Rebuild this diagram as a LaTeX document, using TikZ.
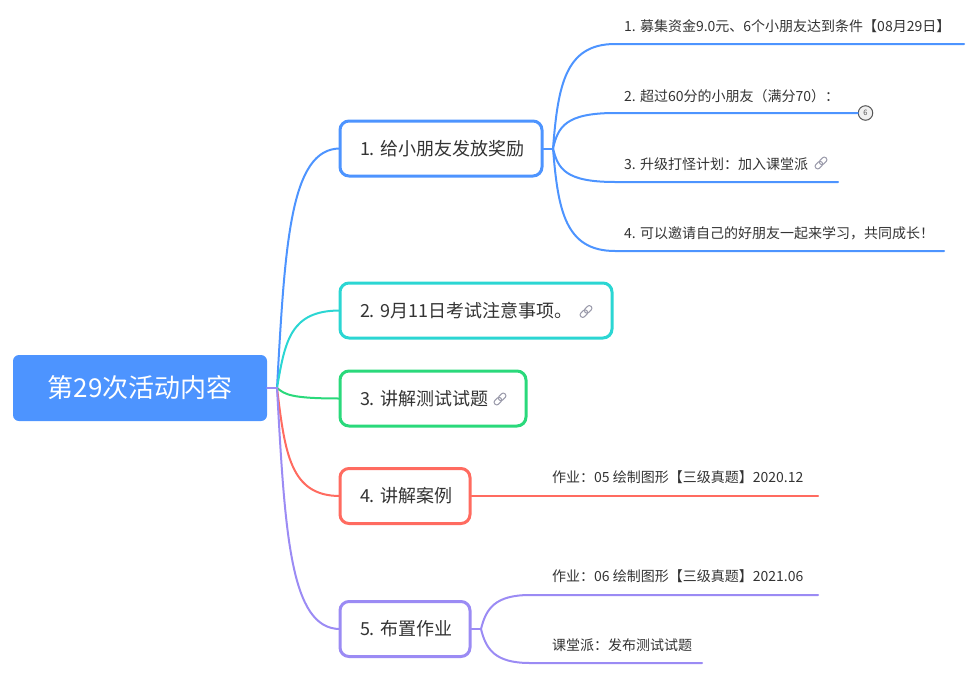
\documentclass[tikz,border=0pt]{standalone}
\usepackage{fontspec}
\setmainfont{Noto Sans CJK SC}
\usetikzlibrary{calc}
\definecolor{cblue}{HTML}{4D94FF}
\definecolor{ccyan}{HTML}{2BD6D3}
\definecolor{cgreen}{HTML}{2AD97B}
\definecolor{cred}{HTML}{FF6B60}
\definecolor{cpurple}{HTML}{9B8BF4}
\definecolor{ctext}{HTML}{333333}
\definecolor{cicon}{HTML}{9A9AAA}
\definecolor{cbadge}{HTML}{555555}
\tikzset{
  rootbox/.style={fill=cblue, rounded corners=6pt, text=white,
    font=\fontsize{26}{30}\selectfont, minimum width=254pt, minimum height=66pt, inner sep=0pt},
  mainbox/.style={draw=#1, fill=white, line width=3pt, rounded corners=9pt, text=ctext,
    font=\fontsize{18}{22}\selectfont, minimum height=55pt, inner xsep=0pt, inner ysep=0pt},
  conn/.style={line width=2pt, line cap=round},
  leaf/.style={text=ctext, font=\fontsize{14}{17}\selectfont, inner sep=0pt, anchor=west},
  badge/.style={draw=cbadge, fill=black!6, circle, line width=1pt, minimum size=14.5pt,
    inner sep=0pt, text=cbadge, font=\fontsize{7.5}{8}\selectfont},
  linkicon/.pic={
    \draw[cicon, line width=1pt, rotate=45, rounded corners=2.4pt] (-7.2,-2.6) rectangle (1.2,2.6);
    \draw[cicon, line width=1pt, rotate=45, rounded corners=2.4pt] (-1.2,-2.6) rectangle (7.2,2.6);
  }
}
\begin{document}
\begin{tikzpicture}[x=1pt,y=-1pt]
\useasboundingbox (0,0) rectangle (976,680);

% root
\node[rootbox] (root) at (140,388) {第29次活动内容};
\coordinate (hub) at (277,388);

% main connectors
\draw[conn,cblue]   (hub) .. controls (285,244.3) and (290,148.5) .. (340,148.5);
\draw[conn,ccyan]   (hub) .. controls (285,341.5) and (290,310.5) .. (340,310.5);
\draw[conn,cgreen]  (hub) .. controls (285,394.3) and (290,398.5) .. (340,398.5);
\draw[conn,cred]    (hub) .. controls (285,452.8) and (290,496) .. (340,496);
\draw[conn,cpurple] (hub) .. controls (285,532.6) and (290,629) .. (340,629);
\draw[conn,cpurple] (root.east) -- (hub);

% node 1 children
\coordinate (b1) at (553,148.5);
\coordinate (l1) at (615,44);  \coordinate (l1e) at (964,44);
\coordinate (l2) at (615,113);
\coordinate (l3) at (615,182); \coordinate (l3e) at (838,182);
\coordinate (l4) at (615,251); \coordinate (l4e) at (944,251);
\node[badge] (bd) at (865.5,113) {6};
\draw[conn,cblue] (b1) .. controls (558,85.8) and (565,44) .. (l1) -- (l1e);
\draw[conn,cblue] (b1) .. controls (558,127.2) and (565,113) .. (l2) -- (bd.west);
\draw[conn,cblue] (b1) .. controls (558,168.6) and (565,182) .. (l3) -- (l3e);
\draw[conn,cblue] (b1) .. controls (558,210) and (565,251) .. (l4) -- (l4e);

\node[leaf] (t1) at (624,26.5) {1. 募集资金9.0元、6个小朋友达到条件【08月29日】};
\node[leaf] (t2) at (624,96) {2. 超过60分的小朋友（满分70）：};
\node[leaf] (t3) at (624,164) {3. 升级打怪计划：加入课堂派};
\node[leaf] (t4) at (624,233) {4. 可以邀请自己的好朋友一起来学习，共同成长！};
\pic at (821,163) {linkicon};

% node 4 child
\coordinate (e4) at (818,496);
\node[leaf] (t5) at (552,477.5) {作业：05 绘制图形【三级真题】2020.12};

% node 5 children
\coordinate (b5) at (481,629);
\coordinate (m1) at (530,595) ; \coordinate (m1e) at (818,595);
\coordinate (m2) at (530,663) ; \coordinate (m2e) at (702,663);
\draw[conn,cpurple] (b5) .. controls (486,608.6) and (495,595) .. (m1) -- (m1e);
\draw[conn,cpurple] (b5) .. controls (486,649.4) and (495,663) .. (m2) -- (m2e);
\node[leaf] (t6) at (552,576) {作业：06 绘制图形【三级真题】2021.06};
\node[leaf] (t7) at (552,645) {课堂派：发布测试试题};

% main boxes
\node[mainbox=cblue,   minimum width=202pt] (n1) at (441,148.5) {\makebox[162pt][l]{1. 给小朋友发放奖励}};
\node[mainbox=ccyan,   minimum width=272pt] (n2) at (476,310.5) {\makebox[232pt][l]{2. 9月11日考试注意事项。}};
\node[mainbox=cgreen,  minimum width=186pt] (n3) at (433,398.5) {\makebox[146pt][l]{3. 讲解测试试题}};
\node[mainbox=cred,    minimum width=130pt] (n4) at (405,496)   {\makebox[90pt][l]{4. 讲解案例}};
\node[mainbox=cpurple, minimum width=130pt] (n5) at (405,629)   {\makebox[90pt][l]{5. 布置作业}};
\pic at (586,311.5) {linkicon};
\pic at (500,399) {linkicon};

\draw[conn,cblue]   (n1.east) -- (b1);
\draw[conn,cred]    (n4.east) -- (e4);
\draw[conn,cpurple] (n5.east) -- (b5);
\end{tikzpicture}
\end{document}
